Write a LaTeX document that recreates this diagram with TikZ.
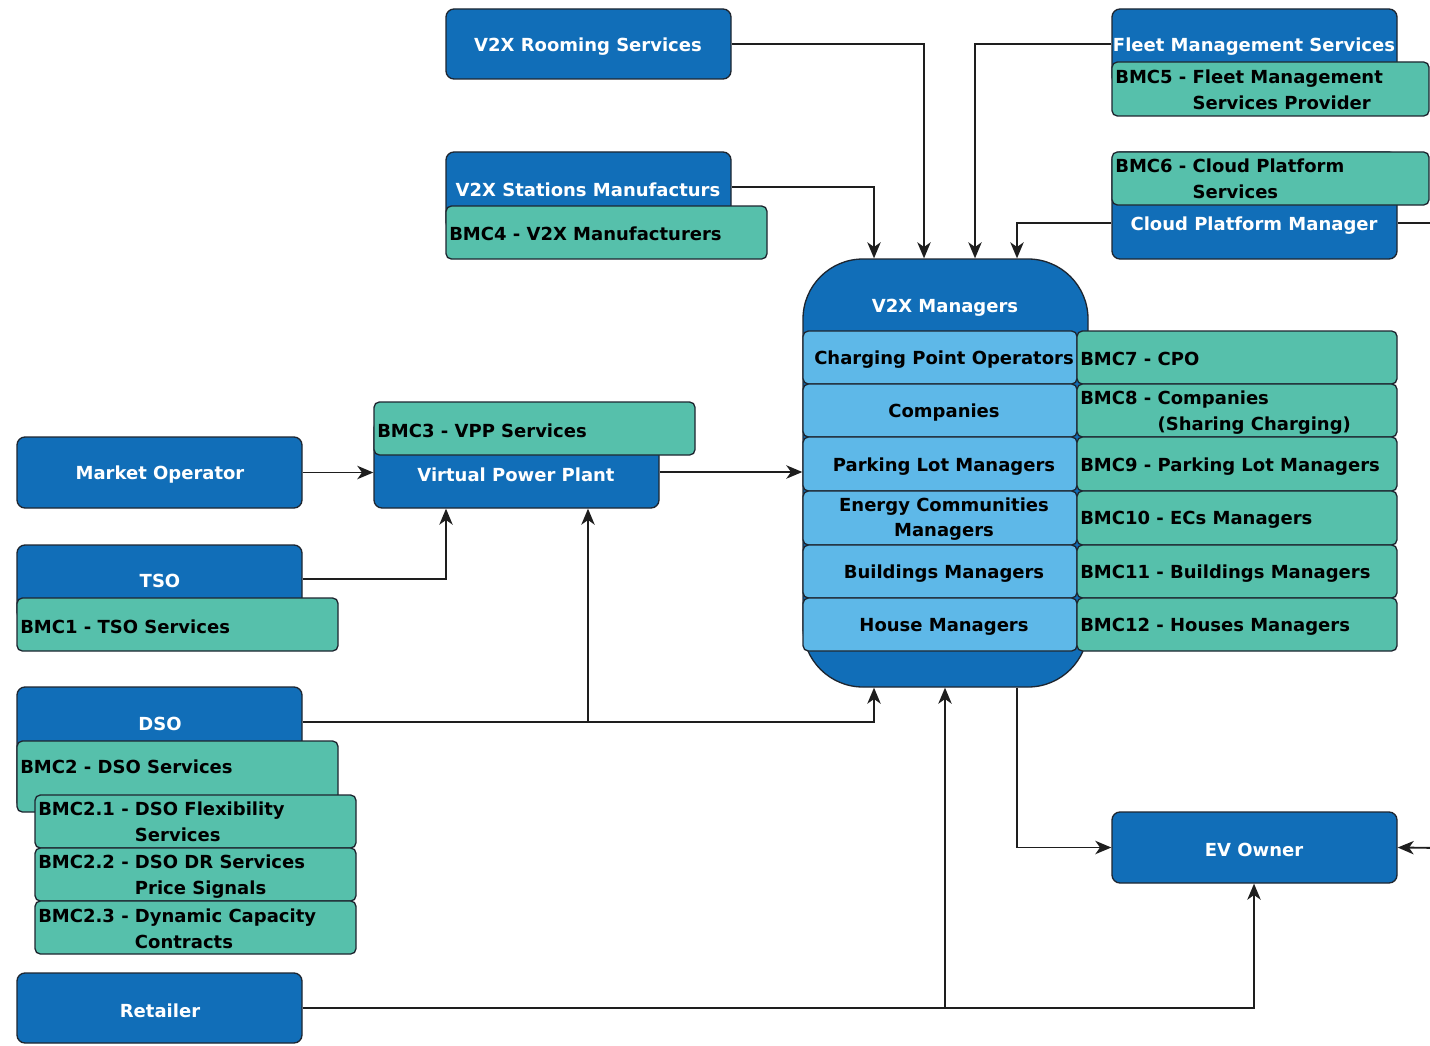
\documentclass[tikz,border=0pt]{standalone}
\usepackage{fontspec}
\setmainfont{DejaVu Sans}
\usetikzlibrary{arrows.meta}
\definecolor{bl}{RGB}{17,110,184}
\definecolor{lb}{RGB}{94,184,232}
\definecolor{gr}{RGB}{86,192,171}
\definecolor{bord}{RGB}{30,38,48}
\definecolor{ln}{RGB}{30,30,30}
\newcommand\mybox[6]{\node[#2, minimum width={(#5-#3)*0.75pt}, minimum height={(#6-#4)*0.75pt}, inner sep=0pt] (#1) at ({(#3+#5)/2},{(#4+#6)/2}) {};}
\begin{document}
\begin{tikzpicture}[x=0.75pt,y=-0.75pt,
  blue/.style={draw=bord, fill=bl, rounded corners=6pt, line width=1pt},
  grn/.style={draw=bord, fill=gr, rounded corners=4pt, line width=1pt},
  lbx/.style={draw=bord, fill=lb, rounded corners=4pt, line width=1pt},
  txt/.style={inner sep=0pt, yshift=-1.8pt, font=\fontsize{13.5}{19}\selectfont\bfseries},
  wt/.style={txt, text=white},
  bk/.style={txt, text=black, anchor=west},
  bc/.style={txt, text=black, align=center},
  arr/.style={draw=ln, line width=1.4pt, -{Stealth[length=12pt,width=10pt,inset=3.5pt]}},
  ln/.style={draw=ln, line width=1.4pt}]
\useasboundingbox (0,0) rectangle (1430,1045);
\fill[white] (0,0) rectangle (1430,1045);
% top boxes
\mybox{room}{blue}{446}{9}{731}{79}
\node[wt] (troom) at (588,44) {V2X Rooming Services};
\mybox{stat}{blue}{446}{152}{731}{230}
\mybox{bmc4}{grn}{446}{206}{767}{259}
\node[wt] (tstat) at (588,187) {V2X Stations Manufacturs};
\node[bk] (tbmc4) at (449,231) {BMC4 - V2X Manufacturers};
\mybox{fleet}{blue}{1112}{9}{1397}{85}
\mybox{bmc5}{grn}{1112}{62}{1429}{116}
\node[wt] (tfleet) at (1254,44) {Fleet Management Services};
\node[bk] (tbmc5) at (1115,89) {BMC5 - \begin{tabular}[t]{@{}l@{}}Fleet Management\\Services Provider\end{tabular}};
\mybox{cloud}{blue}{1112}{152}{1397}{259}
\mybox{bmc6}{grn}{1112}{152}{1429}{205}
\node[bk] (tbmc6) at (1115,178) {BMC6 - \begin{tabular}[t]{@{}l@{}}Cloud Platform\\Services\end{tabular}};
\node[wt] (tcloud) at (1254,223) {Cloud Platform Manager};
% managers
\node[draw=bord, fill=bl, line width=1pt, rounded corners=45pt, minimum width={285*0.75pt}, minimum height={428*0.75pt}, inner sep=0pt] (mgr) at (945.5,473) {};
\node[wt] (tmgr) at (945,305) {V2X Managers};
\mybox{r1}{lbx}{803}{331}{1077}{384}
\mybox{r2}{lbx}{803}{384}{1077}{437}
\mybox{r3}{lbx}{803}{437}{1077}{491}
\mybox{r4}{lbx}{803}{491}{1077}{545}
\mybox{r5}{lbx}{803}{545}{1077}{598}
\mybox{r6}{lbx}{803}{598}{1077}{651}
\mybox{g1}{grn}{1077}{331}{1397}{384}
\mybox{g2}{grn}{1077}{384}{1397}{437}
\mybox{g3}{grn}{1077}{437}{1397}{491}
\mybox{g4}{grn}{1077}{491}{1397}{545}
\mybox{g5}{grn}{1077}{545}{1397}{598}
\mybox{g6}{grn}{1077}{598}{1397}{651}
\node[bc] (tr1) at (944,357) {Charging Point Operators};
\node[bc] (tr2) at (944,410) {Companies};
\node[bc] (tr3) at (944,464) {Parking Lot Managers};
\node[bc] (tr4) at (944,517) {Energy Communities\\Managers};
\node[bc] (tr5) at (944,571) {Buildings Managers};
\node[bc] (tr6) at (944,624) {House Managers};
\node[bk] (tg1) at (1080,357) {BMC7 - CPO};
\node[bk] (tg2) at (1080,410) {BMC8 - \begin{tabular}[t]{@{}l@{}}Companies\\(Sharing Charging)\end{tabular}};
\node[bk] (tg3) at (1080,464) {BMC9 - Parking Lot Managers};
\node[bk] (tg4) at (1080,517) {BMC10 - ECs Managers};
\node[bk] (tg5) at (1080,571) {BMC11 - Buildings Managers};
\node[bk] (tg6) at (1080,624) {BMC12 - Houses Managers};
% left
\mybox{market}{blue}{17}{437}{302}{508}
\node[wt] (tmarket) at (160,472) {Market Operator};
\mybox{vpp}{blue}{374}{420}{659}{508}
\mybox{bmc3}{grn}{374}{402}{695}{455}
\node[wt] (tvpp) at (516,472) {Virtual Power Plant};
\node[bk] (tbmc3) at (377,428) {BMC3 - VPP Services};
\mybox{tso}{blue}{17}{545}{302}{620}
\mybox{bmc1}{grn}{17}{598}{338}{651}
\node[wt] (ttso) at (160,579) {TSO};
\node[bk] (tbmc1) at (20,624) {BMC1 - TSO Services};
\mybox{dso}{blue}{17}{687}{302}{810}
\mybox{bmc2}{grn}{17}{741}{338}{812}
\node[wt] (tdso) at (160,722) {DSO};
\node[bk] (tbmc2) at (20,764) {BMC2 - DSO Services};
\mybox{b21}{grn}{35}{795}{356}{848}
\mybox{b22}{grn}{35}{848}{356}{901}
\mybox{b23}{grn}{35}{901}{356}{954}
\node[bk] (tb21) at (38,821) {BMC2.1 - \begin{tabular}[t]{@{}l@{}}DSO Flexibility\\Services\end{tabular}};
\node[bk] (tb22) at (38,874) {BMC2.2 - \begin{tabular}[t]{@{}l@{}}DSO DR Services\\Price Signals\end{tabular}};
\node[bk] (tb23) at (38,928) {BMC2.3 - \begin{tabular}[t]{@{}l@{}}Dynamic Capacity\\Contracts\end{tabular}};
\mybox{ret}{blue}{17}{973}{302}{1043}
\node[wt] (tret) at (160,1008) {Retailer};
\mybox{ev}{blue}{1112}{812}{1397}{883}
\node[wt] (tev) at (1254,848) {EV Owner};
% coordinates
\coordinate (x874) at (874,0);
\coordinate (x924) at (924,0);
\coordinate (x975) at (975,0);
\coordinate (x1017) at (1017,0);
\coordinate (x446) at (446,0);
\coordinate (x588) at (588,0);
\coordinate (x945) at (945,0);
\coordinate (x1254) at (1254,0);
\coordinate (y722) at (0,722);
\coordinate (y1008) at (0,1008);
\coordinate (offA) at (1445,223);
\coordinate (offB) at (1445,848);
% connectors
\draw[arr] (room.east |- 0,44) -| (x924 |- mgr.north);
\draw[arr] (stat.east |- 0,187) -| (x874 |- mgr.north);
\draw[arr] (fleet.west |- 0,44) -| (x975 |- mgr.north);
\draw[arr] (cloud.west |- 0,223) -| (x1017 |- mgr.north);
\draw[ln] (cloud.east |- 0,223) -- (offA);
\draw[arr] (market.east) -- (vpp.west |- market.east);
\draw[arr] (vpp.east |- 0,472) -- (mgr.west |- 0,472);
\draw[arr] (tso.east |- 0,579) -| (x446 |- vpp.south);
\draw[arr] (dso.east |- y722) -| (x874 |- mgr.south);
\draw[arr] (x588 |- y722) -- (x588 |- vpp.south);
\draw[arr] (ret.east) -| (x1254 |- ev.south);
\draw[arr] (x945 |- y1008) -- (x945 |- mgr.south);
\draw[arr] (x1017 |- mgr.south) |- (ev.west);
\draw[arr] (offB) -- (ev.east);
\end{tikzpicture}
\end{document}
